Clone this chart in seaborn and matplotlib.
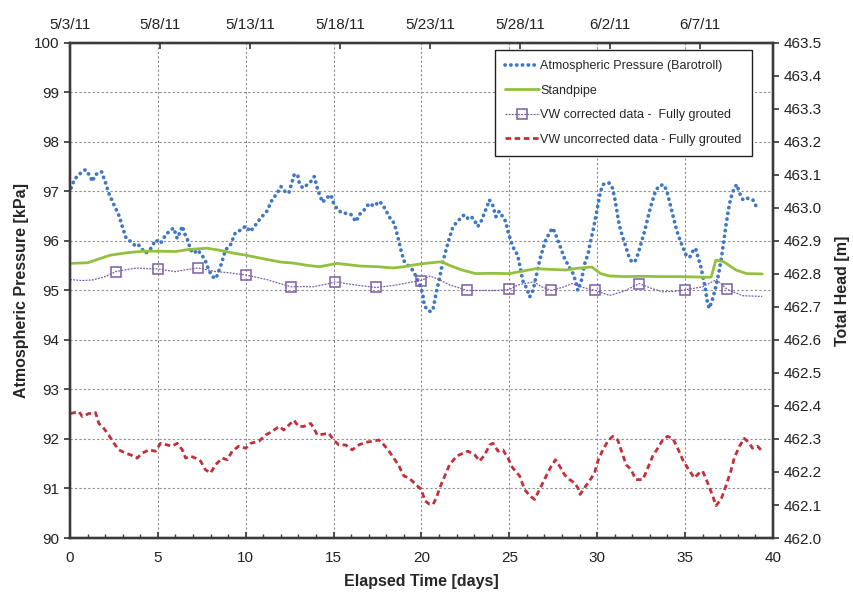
import numpy as np
import matplotlib
matplotlib.use("Agg")
import matplotlib.pyplot as plt
import seaborn as sns

# --- data ---
# Atmospheric pressure (Barotroll), kPa, left axis
atm_days = [0.06, 0.25, 0.5, 0.88, 1.16, 1.26, 1.45, 1.79, 2.0, 2.2,
            2.5, 2.8, 3.0, 3.2, 3.45, 3.75, 3.9, 4.3, 4.6, 4.87,
            5.15, 5.44, 5.72, 5.9, 6.1, 6.4, 6.5, 6.67, 6.86, 7.05,
            7.24, 7.5, 7.7, 7.9, 8.1, 8.3, 8.56, 8.85, 9.13, 9.4,
            9.7, 10.0, 10.26, 10.55, 10.84, 11.2, 11.5, 11.8, 12.0, 12.3,
            12.45, 12.76, 12.95, 13.05, 13.24, 13.52, 13.7, 13.9, 14.1, 14.28,
            14.37, 14.56, 14.85, 15.0, 15.23, 15.5, 15.8, 16.0, 16.27, 16.46,
            16.75, 17.03, 17.3, 17.6, 17.8, 18.0, 18.26, 18.45, 18.65, 18.83,
            19.0, 19.3, 19.5, 19.7, 19.87, 20.07, 20.16, 20.35, 20.54, 20.67,
            20.83, 21.0, 21.2, 21.4, 21.58, 21.77, 21.96, 22.15, 22.44, 22.63,
            22.8, 23.0, 23.2, 23.39, 23.58, 23.77, 23.86, 24.05, 24.24, 24.43,
            24.62, 24.8, 24.9, 25.1, 25.28, 25.47, 25.57, 25.76, 25.98, 26.16,
            26.35, 26.54, 26.73, 26.92, 27.1, 27.3, 27.43, 27.58, 27.72, 27.83,
            27.97, 28.1, 28.25, 28.44, 28.63, 28.78, 28.9, 29.1, 29.3, 29.49,
            29.62, 29.77, 29.92, 30.06, 30.19, 30.34, 30.5, 30.68, 30.87, 31.0,
            31.1, 31.2, 31.33, 31.48, 31.63, 31.77, 31.96, 32.15, 32.34, 32.53,
            32.72, 32.9, 33.1, 33.29, 33.48, 33.76, 33.95, 34.14, 34.33, 34.52,
            34.71, 34.9, 35.1, 35.28, 35.48, 35.6, 35.76, 35.9, 36.0, 36.14,
            36.27, 36.37, 36.52, 36.7, 36.9, 37.05, 37.19, 37.32, 37.47, 37.6,
            37.8, 37.95, 38.1, 38.3, 38.42, 38.6, 38.86, 39.05]
atm_kpa = [97.07, 97.24, 97.34, 97.44, 97.3, 97.2, 97.34, 97.4, 97.2, 96.97,
           96.73, 96.5, 96.26, 96.05, 95.99, 95.89, 95.92, 95.75, 95.85, 96.02,
           95.95, 96.12, 96.22, 96.26, 96.05, 96.3, 96.16, 96.05, 95.82, 95.75,
           95.82, 95.72, 95.6, 95.41, 95.28, 95.24, 95.48, 95.82, 95.92, 96.16,
           96.22, 96.3, 96.19, 96.32, 96.46, 96.6, 96.83, 96.97, 97.1, 96.97,
           96.97, 97.34, 97.34, 97.17, 97.07, 97.14, 97.2, 97.3, 97.03, 96.86,
           96.78, 96.86, 96.93, 96.76, 96.63, 96.56, 96.56, 96.53, 96.39, 96.53,
           96.63, 96.76, 96.7, 96.8, 96.73, 96.6, 96.43, 96.36, 96.09, 95.82,
           95.6, 95.48, 95.41, 95.28, 95.14, 94.94, 94.7, 94.6, 94.57, 94.64,
           94.94, 95.2, 95.55, 95.82, 96.05, 96.26, 96.36, 96.43, 96.53, 96.46,
           96.5, 96.43, 96.29, 96.39, 96.56, 96.73, 96.83, 96.73, 96.49, 96.6,
           96.49, 96.39, 96.22, 95.99, 95.82, 95.72, 95.55, 95.2, 95.05, 94.87,
           95.0, 95.31, 95.61, 95.85, 96.05, 96.16, 96.26, 96.19, 96.05, 95.95,
           95.82, 95.68, 95.58, 95.45, 95.34, 95.18, 95.0, 95.2, 95.55, 95.75,
           95.99, 96.22, 96.49, 96.76, 97.0, 97.14, 97.17, 97.17, 97.07, 96.86,
           96.66, 96.43, 96.22, 96.05, 95.89, 95.72, 95.58, 95.58, 95.75, 95.99,
           96.22, 96.49, 96.76, 96.97, 97.1, 97.14, 97.03, 96.76, 96.49, 96.22,
           96.02, 95.85, 95.68, 95.68, 95.82, 95.85, 95.65, 95.48, 95.31, 95.07,
           94.77, 94.64, 94.77, 95.0, 95.31, 95.61, 95.95, 96.29, 96.63, 96.86,
           97.07, 97.14, 96.97, 96.83, 96.86, 96.86, 96.83, 96.7]

# Standpipe, total head [m], right axis
pipe_days = [0.0, 1.0, 2.3, 3.2, 4.2, 5.0, 6.0, 6.7, 7.8, 8.5,
             9.2, 10.0, 11.0, 12.0, 12.7, 13.5, 14.2, 15.2, 16.5, 17.5,
             18.4, 19.0, 19.4, 20.2, 21.15, 21.6, 22.3, 23.1, 24.0, 25.0,
             25.7, 26.5, 27.3, 28.2, 29.0, 29.7, 30.2, 30.7, 31.5, 32.5,
             33.5, 34.5, 35.5, 36.4, 36.5, 36.75, 37.2, 37.9, 38.5, 39.4]
pipe_head = [462.832, 462.834, 462.857, 462.864, 462.869, 462.869, 462.868, 462.874, 462.878, 462.872,
             462.864, 462.857, 462.846, 462.836, 462.833, 462.826, 462.822, 462.832, 462.824, 462.822,
             462.818, 462.822, 462.826, 462.832, 462.837, 462.826, 462.812, 462.801, 462.802, 462.801,
             462.808, 462.816, 462.814, 462.812, 462.818, 462.821, 462.801, 462.794, 462.792, 462.793,
             462.792, 462.792, 462.791, 462.790, 462.792, 462.842, 462.837, 462.812, 462.801, 462.800]

# VW corrected data - fully grouted, total head [m]
vwc_days = [0.0, 0.7, 1.3, 2.0, 2.6, 3.2, 3.8, 4.4, 5.0, 6.0,
            6.6, 7.3, 8.3, 9.0, 10.0, 11.2, 12.0, 12.6, 13.3, 13.8,
            14.5, 15.1, 15.8, 16.5, 17.4, 18.4, 19.5, 20.0, 20.5, 21.0,
            21.6, 22.6, 23.6, 24.3, 25.0, 25.5, 26.4, 26.8, 27.4, 28.0,
            28.6, 29.2, 29.9, 30.7, 31.5, 32.4, 33.0, 33.7, 34.4, 35.0,
            36.0, 36.8, 37.4, 38.3, 39.4]
vwc_head = [462.783, 462.780, 462.782, 462.792, 462.807, 462.813, 462.818, 462.816, 462.815, 462.807,
            462.813, 462.818, 462.807, 462.804, 462.797, 462.783, 462.770, 462.761, 462.762, 462.761,
            462.768, 462.776, 462.770, 462.765, 462.759, 462.765, 462.776, 462.780, 462.794, 462.783,
            462.767, 462.750, 462.750, 462.750, 462.753, 462.767, 462.776, 462.762, 462.750, 462.759,
            462.771, 462.759, 462.750, 462.735, 462.747, 462.771, 462.758, 462.746, 462.747, 462.752,
            462.761, 462.783, 462.753, 462.734, 462.732]
vwc_marker_days = [2.6, 5.0, 7.3, 10.0, 12.6, 15.1, 17.4, 20.0, 22.6, 25.0, 27.4, 29.9, 32.4, 35.0, 37.4]

# VW uncorrected data - fully grouted, total head [m]
vwu_days = [0.03, 0.5, 0.7, 1.07, 1.45, 1.64, 1.93, 2.2, 2.5, 2.78,
            3.16, 3.44, 3.82, 4.1, 4.49, 4.87, 5.15, 5.53, 5.8, 6.1,
            6.39, 6.58, 6.86, 7.14, 7.43, 7.7, 8.0, 8.28, 8.66, 8.95,
            9.23, 9.6, 10.0, 10.28, 10.75, 11.13, 11.5, 11.9, 12.17, 12.55,
            12.74, 13.0, 13.3, 13.7, 13.88, 14.07, 14.35, 14.73, 15.0, 15.3,
            15.68, 16.06, 16.44, 16.82, 17.2, 17.58, 17.87, 18.15, 18.43, 18.72,
            19.0, 19.29, 19.76, 20.0, 20.19, 20.47, 20.66, 20.85, 21.04, 21.33,
            21.6, 22.0, 22.37, 22.65, 23.03, 23.31, 23.6, 23.88, 24.07, 24.36,
            24.64, 24.92, 25.2, 25.59, 25.87, 26.16, 26.44, 26.72, 27.1, 27.39,
            27.63, 27.86, 28.14, 28.43, 28.71, 28.9, 29.03, 29.28, 29.56, 29.85,
            30.04, 30.32, 30.6, 30.89, 31.17, 31.36, 31.65, 31.93, 32.2, 32.6,
            32.88, 33.16, 33.45, 33.73, 34.0, 34.3, 34.58, 34.87, 35.15, 35.53,
            35.81, 36.0, 36.29, 36.57, 36.76, 37.05, 37.33, 37.61, 37.8, 38.1,
            38.37, 38.66, 38.84, 39.13, 39.32]
vwu_head = [462.377, 462.383, 462.368, 462.377, 462.380, 462.347, 462.332, 462.312, 462.287, 462.267,
            462.257, 462.252, 462.242, 462.257, 462.267, 462.263, 462.287, 462.282, 462.278, 462.287,
            462.267, 462.242, 462.248, 462.242, 462.233, 462.207, 462.197, 462.222, 462.242, 462.237,
            462.263, 462.278, 462.272, 462.287, 462.293, 462.312, 462.323, 462.338, 462.327, 462.347,
            462.357, 462.338, 462.338, 462.347, 462.332, 462.312, 462.314, 462.317, 462.297, 462.282,
            462.282, 462.267, 462.282, 462.290, 462.293, 462.297, 462.282, 462.263, 462.242, 462.218,
            462.188, 462.182, 462.158, 462.147, 462.113, 462.102, 462.102, 462.122, 462.152, 462.188,
            462.222, 462.248, 462.257, 462.263, 462.252, 462.233, 462.252, 462.282, 462.287, 462.263,
            462.267, 462.242, 462.212, 462.188, 462.147, 462.128, 462.117, 462.147, 462.188, 462.218,
            462.237, 462.218, 462.192, 462.177, 462.167, 462.152, 462.132, 462.152, 462.173, 462.197,
            462.233, 462.267, 462.293, 462.308, 462.297, 462.267, 462.222, 462.207, 462.177, 462.177,
            462.212, 462.248, 462.272, 462.297, 462.308, 462.302, 462.272, 462.237, 462.212, 462.182,
            462.197, 462.203, 462.167, 462.128, 462.098, 462.117, 462.158, 462.203, 462.242, 462.278,
            462.302, 462.287, 462.272, 462.278, 462.267]

date_labels = ["5/3/11", "5/8/11", "5/13/11", "5/18/11", "5/23/11", "5/28/11", "6/2/11", "6/7/11"]

# --- styling ---
sns.set_theme(style="white")
plt.rcParams["font.family"] = ["Liberation Sans", "DejaVu Sans"]

BLUE = "#3f78c2"
GREEN = "#93c03e"
PURPLE = "#7a5ca6"
RED = "#c2303a"
SPINE = "#3a3a3a"

fig = plt.figure(figsize=(8.54, 5.96), dpi=100)
ax = fig.add_axes([0.082, 0.0973, 0.823, 0.8307])
ax2 = ax.twinx()
ax_top = ax.twiny()

sns.lineplot(x=atm_days, y=atm_kpa, ax=ax, color=BLUE, linewidth=2.7,
             linestyle=(0, (0.05, 1.5)), dash_capstyle="round",
             estimator=None, legend=False, label="Atmospheric Pressure (Barotroll)")

sns.lineplot(x=pipe_days, y=pipe_head, ax=ax2, color=GREEN, linewidth=2.0,
             estimator=None, legend=False, label="Standpipe")

marks = list(np.flatnonzero(np.isin(vwc_days, vwc_marker_days)))
sns.lineplot(x=vwc_days, y=vwc_head, ax=ax2, color=PURPLE, linewidth=0.9,
             linestyle=(0, (1.5, 1.0)), marker="s", markersize=7,
             markerfacecolor="none", markeredgecolor=PURPLE, markeredgewidth=1.1,
             markevery=marks, estimator=None, legend=False,
             label="VW corrected data -  Fully grouted")

sns.lineplot(x=vwu_days, y=vwu_head, ax=ax2, color=RED, linewidth=2.0,
             linestyle=(0, (2.0, 1.3)), estimator=None, legend=False,
             label="VW uncorrected data - Fully grouted")

# axes limits and ticks
ax.set_xlim(0, 40)
ax.set_ylim(90, 100)
ax.set_xticks(np.arange(0, 41, 5))
ax.set_xticks(np.arange(0, 41, 1), minor=True)
ax.set_yticks(np.arange(90, 101, 1))
ax.tick_params(axis="x", which="major", direction="in", length=4, labelsize=11,
               pad=9, colors=SPINE, labelcolor="#222")
ax.tick_params(axis="x", which="minor", direction="in", length=3, bottom=True, colors=SPINE)
ax.tick_params(axis="y", direction="out", length=4, labelsize=11, colors=SPINE,
               labelcolor="#222", left=True)
ax.grid(True, which="major", color="#8c8c8c", linestyle=(0, (2, 2)), linewidth=0.8)
ax.set_axisbelow(True)

ax2.set_ylim(462.0, 463.5)
ax2.set_yticks(np.arange(462.0, 463.51, 0.1))
ax2.set_yticklabels([f"{v:.1f}" for v in np.arange(462.0, 463.51, 0.1)])
ax2.tick_params(axis="y", direction="out", length=4, labelsize=11, colors=SPINE,
                labelcolor="#222", right=True)
ax2.grid(False)

ax_top.set_xlim(0, 39.06)
ax_top.set_xticks(np.arange(0, 36, 5))
ax_top.set_xticklabels(date_labels)
ax_top.tick_params(axis="x", direction="in", length=4, labelsize=11, colors=SPINE,
                   labelcolor="#222", pad=8)
ax_top.grid(False)

for a in (ax, ax2, ax_top):
    for s in a.spines.values():
        s.set_color(SPINE)
        s.set_linewidth(1.6)

ax.set_xlabel("Elapsed Time [days]", fontsize=11.5, fontweight="bold", labelpad=7)
ax.set_ylabel("Atmospheric Pressure [kPa]", fontsize=11.5, fontweight="bold", labelpad=4)
ax2.set_ylabel("Total Head [m]", fontsize=11.5, fontweight="bold", labelpad=10)
ax_top.set_xlabel("")

h1, l1 = ax.get_legend_handles_labels()
h2, l2 = ax2.get_legend_handles_labels()
leg = ax_top.legend(h1 + h2, l1 + l2, loc="upper right", bbox_to_anchor=(0.97, 0.985),
                    borderaxespad=0, fontsize=9, frameon=True, fancybox=False,
                    edgecolor="#222", framealpha=1, handlelength=2.7, handletextpad=0.1,
                    labelspacing=1.0, borderpad=0.8)
leg.get_frame().set_linewidth(1.0)

fig.savefig("out.png", dpi=100)
plt.close(fig)
